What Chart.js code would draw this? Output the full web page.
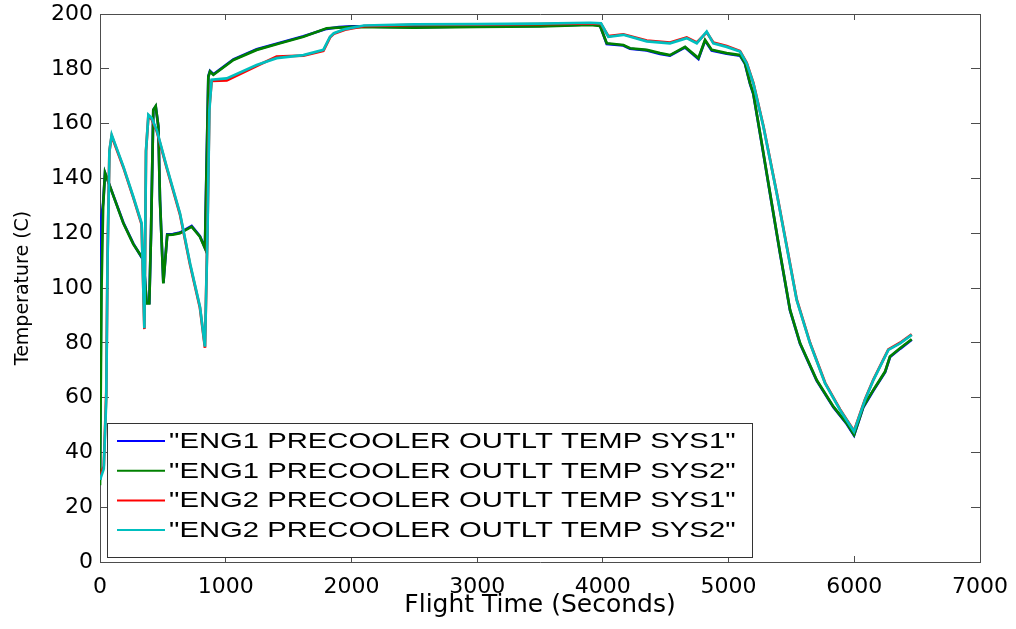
<!DOCTYPE html>
<html>
<head>
<meta charset="utf-8">
<script src="https://cdn.jsdelivr.net/npm/chart.js@4.4.0/dist/chart.umd.min.js"></script>
<style>
  html, body { margin: 0; padding: 0; background: #fff; }
  #wrap { width: 1016px; height: 629px; }
</style>
</head>
<body>
<div id="wrap"><canvas id="tempChart"></canvas></div>
<script>
// series names (legend order)
const seriesNames = [
  '"ENG1 PRECOOLER OUTLT TEMP SYS1"',
  '"ENG1 PRECOOLER OUTLT TEMP SYS2"',
  '"ENG2 PRECOOLER OUTLT TEMP SYS1"',
  '"ENG2 PRECOOLER OUTLT TEMP SYS2"'
];
const seriesColors = ['#0000ff', '#008000', '#ff0000', '#00bfbf'];

// engine 1 samples (seconds)
const eng1Time = [0, 12, 25, 40, 80, 186, 265, 331, 345, 371, 392, 406, 424, 443, 464, 477, 504, 535, 580, 636,
  729, 795, 835, 849, 862, 875, 902, 1061, 1246, 1432, 1618, 1803, 1900, 2000, 2500, 3000, 3500, 3900, 3977, 4031,
  4163, 4216, 4349, 4455, 4534, 4654, 4760, 4813, 4866, 4985, 5091, 5131, 5171, 5197, 5264, 5330, 5410, 5489, 5569, 5701,
  5834, 5940, 5998, 6072, 6152, 6245, 6284, 6364, 6457];
const eng1Sys1 = [30, 126, 131, 142, 137, 123.8, 116.2, 111.2, 111, 94.6, 94.6, 120.2, 165, 166.2, 159.1, 132.3, 101.9, 119.6, 119.7, 120.2,
  122.6, 118.9, 114.7, 148, 177.3, 179.2, 178, 183.4, 187.1, 189.5, 191.9, 194.6, 195.2, 195.5, 195.2, 195.5, 195.7, 196.2, 195.9, 189.1,
  188.5, 187.3, 186.7, 185.4, 184.8, 187.8, 183.6, 190.3, 186.7, 185.5, 184.8, 181.8, 174.5, 170.8, 152.6, 134.4, 112.5, 91.8, 79.6, 66.2,
  56.5, 50.4, 46.2, 56.5, 62.6, 69.3, 74.8, 77.8, 81.1];
const eng1Sys2 = [28, 100, 130, 142, 137, 123.6, 116, 111.4, 111, 94.4, 94.4, 120, 165, 166.4, 158.9, 132.1, 101.7, 119.4, 119.5, 120,
  122.4, 118.7, 114.5, 146.7, 177.1, 179, 177.8, 183.2, 186.9, 189.3, 191.7, 194.8, 195, 195.3, 195, 195.3, 195.5, 196, 195.7, 189.3,
  188.7, 187.5, 186.9, 185.7, 185, 188, 183.9, 190.5, 186.9, 185.7, 185, 182, 174.7, 171, 152.8, 134.6, 112.7, 92, 79.8, 66.4,
  56.7, 50.6, 46.4, 56.7, 62.8, 69.5, 75, 78, 81.3];

// engine 2 samples (seconds)
const eng2Time = [0, 30, 50, 60, 75, 93, 186, 265, 331, 353, 366, 385, 411, 451, 530, 636, 716, 795, 835, 855,
  870, 888, 1008, 1246, 1405, 1618, 1777, 1830, 1860, 1950, 2100, 2500, 3000, 3500, 3900, 3985, 4044, 4163, 4349, 4534,
  4667, 4747, 4826, 4879, 4985, 5091, 5144, 5197, 5277, 5383, 5463, 5542, 5648, 5768, 5887, 5998, 6085, 6152, 6218, 6271,
  6364, 6457];
const eng2Sys1 = [31, 35, 62, 112, 150, 155.5, 144, 133, 123.2, 85, 150, 162.8, 161.6, 157.3, 143.9, 126.9, 108.6, 92.8, 78.2, 122,
  166, 175.6, 175.8, 181, 184.5, 184.8, 186.6, 191.5, 192.8, 194.3, 195.6, 196, 196.1, 196.3, 196.6, 196.4, 191.9, 192.6, 190.3, 189.6,
  191.4, 189.6, 193.3, 189.6, 188.3, 186.5, 182.2, 174.9, 159.1, 134.8, 115.2, 95.8, 80, 65.4, 55.7, 47.8, 59.3, 66.6, 72.7, 77.6,
  80, 83.1];
const eng2Sys2 = [30, 34, 60, 110, 150, 155.9, 144.3, 133.3, 123.6, 85.3, 150, 163.2, 162, 157.7, 144.3, 127.3, 109, 93.2, 78.6, 120,
  165, 176, 176.5, 181.4, 183.9, 185, 186.9, 191.7, 193, 194.5, 195.8, 196.2, 196.3, 196.5, 196.8, 196.6, 191.7, 192.4, 190, 189.3,
  191.2, 189.3, 193.6, 189.3, 188, 186.3, 182, 174.7, 158.9, 134.6, 115, 95.6, 79.8, 65.2, 55.5, 47.6, 59.1, 66.4, 72.5, 77.4,
  79.8, 82.9];

// axis tick labels
const xTicks = [0, 1000, 2000, 3000, 4000, 5000, 6000, 7000];
const yTicks = [0, 20, 40, 60, 80, 100, 120, 140, 160, 180, 200];

const pts = (t, v) => t.map((x, i) => ({ x: x, y: v[i] }));
const seriesData = [pts(eng1Time, eng1Sys1), pts(eng1Time, eng1Sys2), pts(eng2Time, eng2Sys1), pts(eng2Time, eng2Sys2)];

const frame = '#4d4d4d';
const xRange = { min: xTicks[0], max: xTicks[xTicks.length - 1] };
const yRange = { min: yTicks[0], max: yTicks[yTicks.length - 1] };
const plain = v => String(v); // no thousands separator

// MATLAB style legend sitting inside the axes, bottom left
const insideLegend = {
  id: 'insideLegend',
  afterDatasetsDraw(chart) {
    const { ctx, chartArea: a } = chart;
    const left = a.left + 7, w = 645, h = 134;
    const top = a.bottom - 5 - h;
    ctx.save();
    ctx.fillStyle = '#fff';
    ctx.fillRect(left, top, w, h);
    ctx.strokeStyle = '#333';
    ctx.lineWidth = 1;
    ctx.strokeRect(left + 0.5, top + 0.5, w, h);
    ctx.font = '22px "Liberation Sans", Arial, sans-serif';
    ctx.textBaseline = 'middle';
    chart.data.datasets.forEach((ds, i) => {
      const y = top + 18 + i * 29.7;
      ctx.strokeStyle = ds.borderColor;
      ctx.lineWidth = 2;
      ctx.beginPath();
      ctx.moveTo(left + 10, y);
      ctx.lineTo(left + 58, y);
      ctx.stroke();
      ctx.save();
      ctx.translate(left + 62, y + 1);
      ctx.scale(1.33, 1);
      ctx.fillStyle = '#000';
      ctx.fillText(ds.label, 0, 0);
      ctx.restore();
    });
    ctx.restore();
  }
};

Chart.defaults.font.family = '"DejaVu Sans", sans-serif';
Chart.defaults.color = '#000';

new Chart(document.getElementById('tempChart').getContext('2d'), {
  type: 'line',
  data: {
    datasets: seriesData.map((d, i) => ({
      label: seriesNames[i],
      data: d,
      borderColor: seriesColors[i],
      backgroundColor: seriesColors[i],
      borderWidth: 2.7,
      pointRadius: 0,
      tension: 0,
      fill: false,
      order: 4 - i // later series drawn on top, like matlab
    }))
  },
  options: {
    responsive: true,
    maintainAspectRatio: false,
    animation: false,
    layout: { padding: { top: 14, right: 36, bottom: 0, left: 0 } },
    plugins: {
      legend: { display: false },
      tooltip: { enabled: false }
    },
    scales: {
      x: {
        type: 'linear', position: 'bottom', ...xRange,
        ticks: { stepSize: xTicks[1] - xTicks[0], callback: plain, font: { size: 22 }, padding: 18, maxRotation: 0, autoSkip: false },
        grid: { drawOnChartArea: false, tickLength: -6, color: frame },
        border: { color: frame, width: 1 },
        title: { display: true, text: 'Flight Time (Seconds)', font: { size: 25 }, padding: { top: 0, bottom: 9 } },
        afterFit: s => { s.height = 67; s.paddingLeft = 0; s.paddingRight = 0; }
      },
      x2: {
        type: 'linear', position: 'top', ...xRange,
        ticks: { display: false, stepSize: xTicks[1] - xTicks[0] },
        grid: { drawOnChartArea: false, tickLength: -6, color: frame },
        border: { color: frame, width: 1 },
        afterFit: s => { s.height = 0; s.paddingLeft = 0; s.paddingRight = 0; }
      },
      y: {
        type: 'linear', position: 'left', ...yRange,
        ticks: { stepSize: yTicks[1] - yTicks[0], callback: plain, font: { size: 22 }, padding: 16 },
        grid: { drawOnChartArea: false, tickLength: -9, color: frame },
        border: { color: frame, width: 1 },
        title: { display: true, text: 'Temperature (C)', font: { size: 19 }, padding: { top: 12, bottom: 0 } },
        afterFit: s => { s.width = 100; s.paddingTop = 0; s.paddingBottom = 0; }
      },
      y2: {
        type: 'linear', position: 'right', ...yRange,
        ticks: { display: false, stepSize: yTicks[1] - yTicks[0] },
        grid: { drawOnChartArea: false, tickLength: -9, color: frame },
        border: { color: frame, width: 1 },
        afterFit: s => { s.width = 0; s.paddingTop = 0; s.paddingBottom = 0; }
      }
    }
  },
  plugins: [insideLegend]
});
</script>
</body>
</html>
